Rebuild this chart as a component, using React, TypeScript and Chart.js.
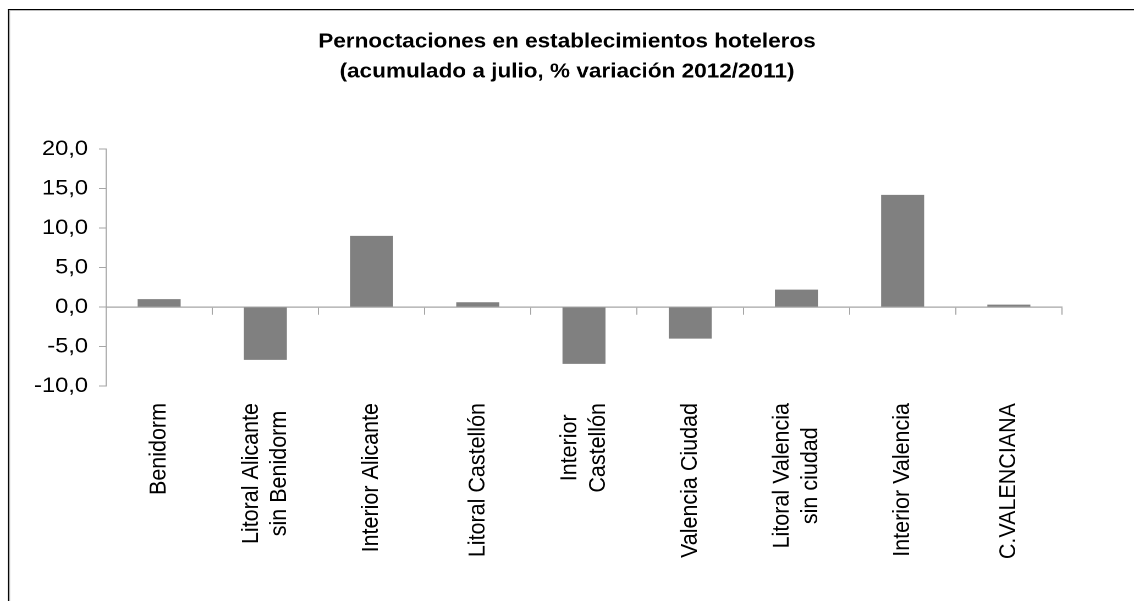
import React, { useEffect, useRef } from "react";
import { Chart, registerables } from "chart.js";

Chart.register(...registerables);

// ---- data ----
const titleLines = [
  "Pernoctaciones en establecimientos hoteleros",
  "(acumulado a julio, % variación 2012/2011)",
];
const categories = [
  ["Benidorm"],
  ["Litoral Alicante", "sin Benidorm"],
  ["Interior Alicante"],
  ["Litoral Castellón"],
  ["Interior", "Castellón"],
  ["Valencia Ciudad"],
  ["Litoral Valencia", "sin ciudad"],
  ["Interior Valencia"],
  ["C.VALENCIANA"],
];
const variation = [1.0, -6.7, 9.0, 0.6, -7.2, -4.0, 2.2, 14.2, 0.3];
const yMin = -10;
const yMax = 20;
const yStep = 5;

// ---- layout (screen is stretched horizontally from logical width) ----
const SCREEN_W = 1134;
const SCREEN_H = 601;
const LOGICAL_W = 1031;
const FONT = '"Liberation Sans", Arial, Helvetica, sans-serif';
const AXIS_GRAY = "#a6a6a6";
const LABEL_SIZE = 21.5;
const LABEL_LINE = 1.2;
const LABEL_GAP = 17;

const fmt = (v: number | string) => Number(v).toFixed(1).replace(".", ",");

const framePlugin = {
  id: "frame",
  beforeDraw(chart: any) {
    const { ctx, width, height } = chart;
    ctx.save();
    ctx.fillStyle = "#ffffff";
    ctx.fillRect(0, 0, width, height);
    ctx.fillStyle = "#bdbdbd";
    ctx.fillRect(8.2, 10, 1, height);
    ctx.fillRect(8.2, 10, width, 1);
    ctx.fillStyle = "#000000";
    ctx.fillRect(7.2, 9, 1, height);
    ctx.fillRect(7.2, 9, width, 1);
    ctx.restore();
  },
};

// category labels rotated 90°, lines centred on each other (as in the reference)
const categoryLabelPlugin = {
  id: "catLabels",
  afterDraw(chart: any) {
    const scale = chart.scales.x;
    const labels: string[][] = chart.data.labels;
    const { ctx } = chart;
    const lh = LABEL_SIZE * LABEL_LINE;
    ctx.save();
    ctx.font = `${LABEL_SIZE}px ${FONT}`;
    ctx.fillStyle = "#000000";
    ctx.textBaseline = "middle";
    ctx.textAlign = "center";
    const top = scale.top + LABEL_GAP;
    labels.forEach((lines, i) => {
      const px = scale.getPixelForTick(i);
      const maxW = Math.max(...lines.map((l) => ctx.measureText(l).width));
      ctx.save();
      ctx.translate(px, top + maxW / 2);
      ctx.rotate(-Math.PI / 2);
      lines.forEach((l, j) => {
        ctx.fillText(l, 0, (j - (lines.length - 1) / 2) * lh);
      });
      ctx.restore();
    });
    ctx.restore();
  },
};

export default function App() {
  const canvasRef = useRef<HTMLCanvasElement | null>(null);

  useEffect(() => {
    const canvas = canvasRef.current;
    if (!canvas) return;
    const chart = new Chart(canvas, {
      type: "bar",
      data: {
        labels: categories as any,
        datasets: [
          {
            data: variation,
            backgroundColor: "#808080",
            borderWidth: 0,
            barPercentage: 1,
            categoryPercentage: 0.405,
            xAxisID: "x",
            yAxisID: "y",
          },
        ],
      },
      plugins: [framePlugin, categoryLabelPlugin],
      options: {
        responsive: false,
        animation: false,
        devicePixelRatio: 2,
        layout: { padding: { left: 0, right: 0, top: 9, bottom: 0 } },
        plugins: {
          legend: { display: false },
          tooltip: { enabled: false },
          title: {
            display: true,
            text: titleLines,
            color: "#000000",
            font: { family: FONT, size: 20.5, weight: "bold", lineHeight: "30px" },
            padding: { top: 18, bottom: 62 },
          },
        },
        scales: {
          x: {
            type: "category",
            position: "bottom",
            offset: true,
            grid: { display: false, drawTicks: false, offset: true },
            border: { display: false },
            ticks: { display: false, autoSkip: false },
            afterFit: (s: any) => {
              s.height = 215;
            },
          },
          x0: {
            type: "category",
            labels: categories as any,
            position: { y: 0 },
            offset: true,
            grid: {
              display: true,
              offset: true,
              drawOnChartArea: false,
              drawTicks: true,
              tickLength: 7,
              color: AXIS_GRAY,
              lineWidth: 1,
            },
            border: { display: true, color: AXIS_GRAY, width: 1.3 },
            ticks: { display: false },
          },
          y: {
            min: yMin,
            max: yMax,
            ticks: {
              stepSize: yStep,
              callback: (v: any) => fmt(v),
              padding: 10,
              color: "#000000",
              font: { family: FONT, size: 21.5 },
            },
            grid: {
              drawOnChartArea: false,
              drawTicks: true,
              tickLength: 6.4,
              color: AXIS_GRAY,
            },
            border: { display: true, color: AXIS_GRAY },
            afterFit: (s: any) => {
              s.width = 96.4;
            },
          },
          yRightSpace: {
            type: "linear",
            position: "right",
            grid: { display: false, drawTicks: false },
            border: { display: false },
            ticks: { display: false },
            afterFit: (s: any) => {
              s.width = 65.5;
            },
          },
        },
      } as any,
    });
    return () => chart.destroy();
  }, []);

  return (
    <div style={{ position: "fixed", left: 0, top: 0, width: SCREEN_W, height: SCREEN_H, background: "#fff" }}>
      <canvas
        ref={canvasRef}
        width={LOGICAL_W}
        height={SCREEN_H}
        style={{ width: SCREEN_W + "px", height: SCREEN_H + "px", display: "block" }}
      />
    </div>
  );
}
